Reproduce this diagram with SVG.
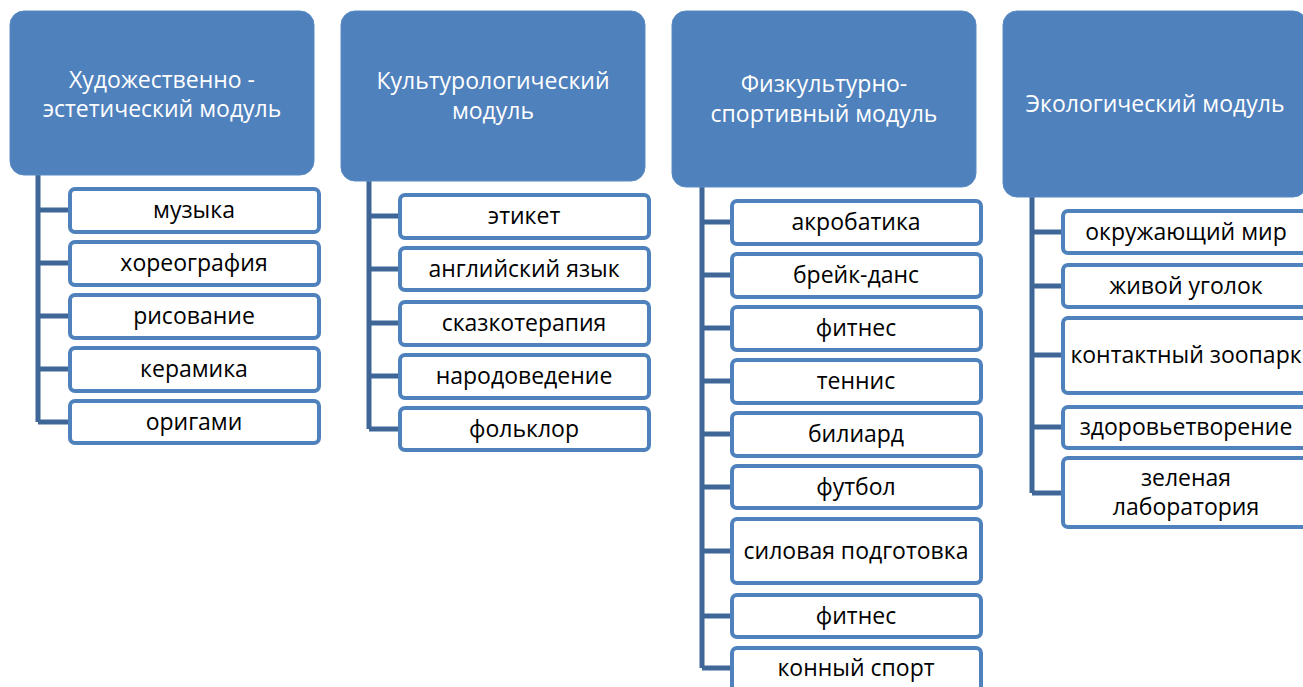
<svg xmlns="http://www.w3.org/2000/svg" width="1303" height="687" viewBox="0 0 1303 687">
<style>
.hdr{fill:#4F81BD;stroke:#5B8AC3;stroke-width:1}
.box{fill:#fff;stroke:#4F81BD;stroke-width:4}
.ht{font-family:"Open Sans",sans-serif;font-size:23px;fill:#fff;text-anchor:middle}
.bt{font-family:"Open Sans",sans-serif;font-size:23px;fill:#000;text-anchor:middle}
.con{fill:none;stroke:#3E6797;stroke-width:5}
</style>
<rect width="1303" height="687" fill="#fff"/>
<g id="connectors">
<path class="con" d="M38 175V422M38 210H70M38 263H70M38 316H70M38 369H70M38 422H70"/>
<path class="con" d="M369 181V429M369 216H400M369 269H400M369 323H400M369 376H400M369 429H400"/>
<path class="con" d="M702 187V668M702 222H732M702 275H732M702 328H732M702 381H732M702 434H732M702 487H732M702 551H732M702 616H732M702 668H732"/>
<path class="con" d="M1032 197V493M1032 232H1063M1032 286H1063M1032 355H1063M1032 427H1063M1032 493H1063"/>
</g>
<g id="h1"><rect class="hdr" x="10" y="11" width="304" height="164" rx="14"/><text class="ht" x="162" y="88">Художественно -</text><text class="ht" x="162" y="117">эстетический модуль</text></g>
<g id="h2"><rect class="hdr" x="341" y="11" width="304" height="170" rx="14"/><text class="ht" x="493" y="89">Культурологический</text><text class="ht" x="493" y="119">модуль</text></g>
<g id="h3"><rect class="hdr" x="672" y="11" width="304" height="176" rx="14"/><text class="ht" x="824" y="92">Физкультурно-</text><text class="ht" x="824" y="122">спортивный модуль</text></g>
<g id="h4"><rect class="hdr" x="1003" y="11" width="304" height="186" rx="14"/><text class="ht" x="1155" y="112">Экологический модуль</text></g>

<g id="c1a"><rect class="box" x="70" y="189" width="249" height="43" rx="5"/><text class="bt" x="194" y="218">музыка</text></g>
<g id="c1b"><rect class="box" x="70" y="242" width="249" height="43" rx="5"/><text class="bt" x="194" y="271">хореография</text></g>
<g id="c1c"><rect class="box" x="70" y="295" width="249" height="43" rx="5"/><text class="bt" x="194" y="324">рисование</text></g>
<g id="c1d"><rect class="box" x="70" y="348" width="249" height="43" rx="5"/><text class="bt" x="194" y="377">керамика</text></g>
<g id="c1e"><rect class="box" x="70" y="401" width="249" height="42" rx="5"/><text class="bt" x="194" y="430">оригами</text></g>

<g id="c2a"><rect class="box" x="400" y="195" width="249" height="43" rx="5"/><text class="bt" x="524" y="224">этикет</text></g>
<g id="c2b"><rect class="box" x="400" y="248" width="249" height="42" rx="5"/><text class="bt" x="524" y="277">английский язык</text></g>
<g id="c2c"><rect class="box" x="400" y="302" width="249" height="43" rx="5"/><text class="bt" x="524" y="331">сказкотерапия</text></g>
<g id="c2d"><rect class="box" x="400" y="355" width="249" height="43" rx="5"/><text class="bt" x="524" y="384">народоведение</text></g>
<g id="c2e"><rect class="box" x="400" y="408" width="249" height="42" rx="5"/><text class="bt" x="524" y="437">фольклор</text></g>

<g id="c3a"><rect class="box" x="732" y="201" width="249" height="43" rx="5"/><text class="bt" x="856" y="230">акробатика</text></g>
<g id="c3b"><rect class="box" x="732" y="254" width="249" height="43" rx="5"/><text class="bt" x="856" y="283">брейк-данс</text></g>
<g id="c3c"><rect class="box" x="732" y="307" width="249" height="43" rx="5"/><text class="bt" x="856" y="336">фитнес</text></g>
<g id="c3d"><rect class="box" x="732" y="360" width="249" height="43" rx="5"/><text class="bt" x="856" y="389">теннис</text></g>
<g id="c3e"><rect class="box" x="732" y="413" width="249" height="43" rx="5"/><text class="bt" x="856" y="442">билиард</text></g>
<g id="c3f"><rect class="box" x="732" y="466" width="249" height="42" rx="5"/><text class="bt" x="856" y="495">футбол</text></g>
<g id="c3g"><rect class="box" x="732" y="519" width="249" height="64" rx="5"/><text class="bt" x="856" y="559">силовая подготовка</text></g>
<g id="c3h"><rect class="box" x="732" y="595" width="249" height="42" rx="5"/><text class="bt" x="856" y="624">фитнес</text></g>
<g id="c3i"><rect class="box" x="732" y="648" width="249" height="44" rx="5"/><text class="bt" x="856" y="676">конный спорт</text></g>

<g id="c4a"><rect class="box" x="1063" y="211" width="249" height="42" rx="5"/><text class="bt" x="1186" y="240">окружающий мир</text></g>
<g id="c4b"><rect class="box" x="1063" y="265" width="249" height="42" rx="5"/><text class="bt" x="1186" y="294">живой уголок</text></g>
<g id="c4c"><rect class="box" x="1063" y="318" width="249" height="75" rx="5"/><text class="bt" x="1186" y="363">контактный зоопарк</text></g>
<g id="c4d"><rect class="box" x="1063" y="407" width="249" height="41" rx="5"/><text class="bt" x="1186" y="435">здоровьетворение</text></g>
<g id="c4e"><rect class="box" x="1063" y="458" width="249" height="69" rx="5"/><text class="bt" x="1186" y="486">зеленая</text><text class="bt" x="1186" y="515">лаборатория</text></g>
</svg>
